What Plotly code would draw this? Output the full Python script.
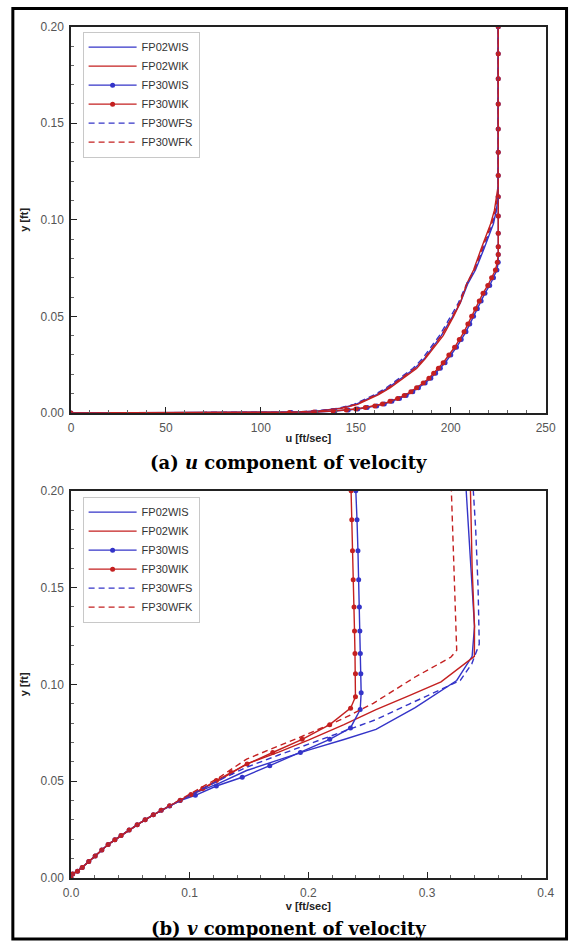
import plotly.graph_objects as go

# ---------------- (a) u-velocity profiles: u [ft/sec] vs y [ft] ----------------
U_Y_FP02WIS = [0, 0.0003, 0.001, 0.0025, 0.0044, 0.0075, 0.0095, 0.013, 0.018, 0.023, 0.028,
               0.035, 0.040, 0.050, 0.057, 0.067, 0.074, 0.085, 0.091, 0.098, 0.105, 0.112, 0.2]
U_FP02WIS = [0, 115, 130, 142, 150, 157, 161, 167, 174, 181, 186,
             191, 195, 201, 205, 209, 213, 217.5, 220, 222.5, 224, 225, 225]

U_Y_FP02WIK = [0, 0.0003, 0.001, 0.0025, 0.0044, 0.0075, 0.0095, 0.013, 0.018, 0.023, 0.028,
               0.035, 0.040, 0.050, 0.057, 0.067, 0.074, 0.085, 0.091, 0.098, 0.105, 0.118, 0.2]
U_FP02WIK = [0, 116, 131, 143, 151, 158, 162, 168, 175, 182, 186.5,
             192, 196, 201.5, 205, 208.5, 212, 216, 218.5, 221, 223, 225, 225]

U_Y_FP30WFS = [0, 0.0003, 0.001, 0.0025, 0.0044, 0.0075, 0.0095, 0.013, 0.018, 0.023, 0.028,
               0.035, 0.040, 0.050, 0.057, 0.067, 0.074, 0.085, 0.091, 0.098, 0.105, 0.112, 0.2]
U_FP30WFS = [0, 114, 129, 141, 149, 156, 160, 166, 173, 180, 185,
             190, 194, 200, 204, 208.5, 212.5, 217, 219.5, 222, 224, 225, 225]

U_Y_FP30WFK = [0, 0.0003, 0.001, 0.0025, 0.0044, 0.0075, 0.0095, 0.013, 0.018, 0.023, 0.028,
               0.035, 0.040, 0.050, 0.057, 0.067, 0.074, 0.085, 0.091, 0.098, 0.105, 0.115, 0.2]
U_FP30WFK = [0, 115, 130, 142, 150, 157, 161, 167, 174, 181, 186,
             191, 195, 201, 204.5, 208.5, 212.5, 216.5, 219, 221.5, 223.5, 225, 225]

U_Y_FP30WI = [0, 0.0002, 0.0005, 0.001, 0.0015, 0.002, 0.0028, 0.0036, 0.0046, 0.006, 0.0075,
              0.009, 0.011, 0.013, 0.0155, 0.018, 0.0205, 0.0231, 0.026, 0.030, 0.034, 0.038,
              0.042, 0.046, 0.050, 0.054, 0.058, 0.062, 0.066, 0.070, 0.074, 0.078, 0.082,
              0.086, 0.093, 0.102, 0.112, 0.123, 0.135, 0.147, 0.160, 0.173, 0.186, 0.2]
U_FP30WIK = [0, 115, 128, 138, 145, 150, 155, 160, 164, 168, 172,
             175.5, 179, 182, 185.5, 188.5, 191, 193.5, 196, 199, 202, 204.5,
             207, 209, 211, 213, 215, 217, 219.5, 221.5, 223.5, 224.5, 225,
             225, 225, 225, 225, 225, 225, 225, 225, 225, 225, 225]
U_FP30WIS = [0, 116, 129, 139, 146, 151, 156, 161, 165, 169, 173,
             176.5, 180, 183, 186.5, 189.5, 192, 194.5, 197, 200, 203, 205.5,
             208, 210, 212, 214, 216, 218, 220.5, 222.5, 224.3, 225, 225,
             225, 225, 225, 225, 225, 225, 225, 225, 225, 225, 225]

# ---------------- (b) v-velocity profiles: v [ft/sec] vs y [ft] ----------------
V_FP02WIS = [0, 0.0014, 0.0095, 0.0204, 0.0313, 0.0422, 0.0558, 0.0694, 0.0831, 0.1011,
             0.125, 0.148, 0.175, 0.2, 0.23, 0.257, 0.29, 0.325, 0.338, 0.340, 0.337, 0.333]
V_Y_FP02WIS = [0, 0.002, 0.0054, 0.0114, 0.0173, 0.0219, 0.0275, 0.0326, 0.0373, 0.0431,
               0.0490, 0.0555, 0.0610, 0.0660, 0.0715, 0.0767, 0.0880, 0.1020, 0.1145, 0.13, 0.16, 0.2]

V_FP02WIK = [0, 0.0014, 0.0095, 0.0204, 0.0313, 0.0422, 0.0558, 0.0694, 0.0831, 0.1011,
             0.125, 0.148, 0.175, 0.2, 0.23, 0.257, 0.285, 0.3118, 0.3399, 0.340, 0.338, 0.3366]
V_Y_FP02WIK = [0, 0.002, 0.0054, 0.0114, 0.0173, 0.0219, 0.0275, 0.0326, 0.0373, 0.0431,
               0.0505, 0.0589, 0.065, 0.0712, 0.0792, 0.0869, 0.0942, 0.1013, 0.1145, 0.13, 0.16, 0.2]

V_FP30WFS = [0, 0.0014, 0.0095, 0.0204, 0.0313, 0.0422, 0.0558, 0.0694, 0.0831, 0.1011,
             0.125, 0.148, 0.175, 0.2, 0.23, 0.257, 0.2846, 0.328, 0.3377, 0.344, 0.343, 0.341, 0.339]
V_Y_FP30WFS = [0, 0.002, 0.0054, 0.0114, 0.0173, 0.0219, 0.0275, 0.0326, 0.0373, 0.0431,
               0.0505, 0.0572, 0.0635, 0.0690, 0.0755, 0.0818, 0.0897, 0.102, 0.1106, 0.1208, 0.15, 0.18, 0.2]

V_FP30WFK = [0, 0.0014, 0.0095, 0.0204, 0.0313, 0.0422, 0.0558, 0.0694, 0.0831, 0.1011,
             0.125, 0.148, 0.175, 0.2, 0.23, 0.2547, 0.29, 0.32, 0.325, 0.323, 0.3205]
V_Y_FP30WFK = [0, 0.002, 0.0054, 0.0114, 0.0173, 0.0219, 0.0275, 0.0326, 0.0373, 0.0438,
               0.052, 0.0614, 0.068, 0.0745, 0.0825, 0.0902, 0.1038, 0.114, 0.1176, 0.16, 0.2]

V_FP30WIS = [0, 0.0014, 0.0055, 0.0095, 0.015, 0.0204, 0.026, 0.0313, 0.037, 0.0422, 0.049,
             0.0558, 0.0625, 0.0694, 0.076, 0.0831, 0.092, 0.1048, 0.1225, 0.1443, 0.1675,
             0.1933, 0.218, 0.2355, 0.2437, 0.2445, 0.2442, 0.2438, 0.2434, 0.243, 0.2424,
             0.2418, 0.2410, 0.2400]
V_Y_FP30WIS = [0, 0.002, 0.0035, 0.0054, 0.0085, 0.0114, 0.0145, 0.0173, 0.0197, 0.0219, 0.0248,
               0.0275, 0.0301, 0.0326, 0.0350, 0.0372, 0.0400, 0.0427, 0.0475, 0.0520, 0.0580,
               0.0648, 0.0716, 0.0775, 0.0870, 0.0957, 0.1055, 0.116, 0.1276, 0.140, 0.154,
               0.169, 0.185, 0.2]

V_FP30WIK = [0, 0.0014, 0.0055, 0.0095, 0.015, 0.0204, 0.026, 0.0313, 0.037, 0.0422, 0.049,
             0.0558, 0.0625, 0.0694, 0.076, 0.0831, 0.092, 0.1011, 0.111, 0.1225, 0.135, 0.1484,
             0.170, 0.1948, 0.218, 0.2356, 0.2397, 0.2397, 0.2393, 0.2389, 0.2385, 0.2378,
             0.2372, 0.2366, 0.236]
V_Y_FP30WIK = [0, 0.002, 0.0035, 0.0054, 0.0085, 0.0114, 0.0145, 0.0173, 0.0197, 0.0219, 0.0248,
               0.0275, 0.0301, 0.0326, 0.0350, 0.0373, 0.0402, 0.0431, 0.0462, 0.0504, 0.0545, 0.0588,
               0.0648, 0.0716, 0.0792, 0.0877, 0.0936, 0.1055, 0.116, 0.1276, 0.140, 0.154,
               0.169, 0.185, 0.2]

BLUE = "#3434c8"
RED = "#c42020"
W, H = 578, 949

fig = go.Figure()


def add_series(x, y, name, color, dash, markers, xa, ya, legend):
    fig.add_trace(go.Scatter(
        x=x, y=y, name=name,
        mode="lines+markers" if markers else "lines",
        line=dict(color=color, width=1.4, dash=dash),
        marker=dict(size=5, color=color),
        xaxis=xa, yaxis=ya, legend=legend,
    ))


DASH = "6px,4px"
STYLES = [("FP02WIS", BLUE, "solid", False), ("FP02WIK", RED, "solid", False),
          ("FP30WIS", BLUE, "solid", True), ("FP30WIK", RED, "solid", True),
          ("FP30WFS", BLUE, DASH, False), ("FP30WFK", RED, DASH, False)]
for xa, ya, lg, data in [
    ("x", "y", "legend", [
        (U_FP02WIS, U_Y_FP02WIS), (U_FP02WIK, U_Y_FP02WIK),
        (U_FP30WIS, U_Y_FP30WI), (U_FP30WIK, U_Y_FP30WI),
        (U_FP30WFS, U_Y_FP30WFS), (U_FP30WFK, U_Y_FP30WFK)]),
    ("x2", "y2", "legend2", [
        (V_FP02WIS, V_Y_FP02WIS), (V_FP02WIK, V_Y_FP02WIK),
        (V_FP30WIS, V_Y_FP30WIS), (V_FP30WIK, V_Y_FP30WIK),
        (V_FP30WFS, V_Y_FP30WFS), (V_FP30WFK, V_Y_FP30WFK)]),
]:
    for (name, color, dash, mk), (x, y) in zip(STYLES, data):
        add_series(x, y, name, color, dash, mk, xa, ya, lg)

SANS = "Liberation Sans, Arial, sans-serif"
TICKFONT = dict(family=SANS, size=12, color="#555555")
TITLEFONT = dict(family=SANS, size=11, color="#222222")

axis_common = dict(
    showline=True, linecolor="#222222", linewidth=1.5, mirror=True,
    ticks="inside", ticklen=6, tickwidth=1.2, tickcolor="#222222",
    showgrid=False, zeroline=False, tickfont=TICKFONT, ticklabelstandoff=3,
)
minor = dict(ticks="inside", ticklen=3, tickcolor="#666666", tickwidth=1, showgrid=False)

XDOM = [65 / W, 555 / W]
fig.update_layout(
    width=W, height=H,
    margin=dict(l=0, r=0, t=0, b=0),
    paper_bgcolor="white", plot_bgcolor="white",
    xaxis=dict(domain=XDOM, anchor="y", range=[0, 250], dtick=50,
               minor=dict(dtick=10, **minor),
               title=dict(text="<b>u [ft/sec]</b>", font=TITLEFONT, standoff=0), **axis_common),
    yaxis=dict(domain=[1 - 412 / H, 1 - 20 / H], anchor="x", range=[0, 0.2], dtick=0.05,
               tickformat=".2f", minor=dict(dtick=0.01, **minor),
               title=dict(text="<b>y [ft]</b>", font=TITLEFONT, standoff=10), **axis_common),
    xaxis2=dict(domain=XDOM, anchor="y2", range=[0, 0.4], dtick=0.1, tickformat=".1f",
                minor=dict(dtick=0.02, **minor),
                title=dict(text="<b>v [ft/sec]</b>", font=TITLEFONT, standoff=0), **axis_common),
    yaxis2=dict(domain=[1 - 884 / H, 1 - 491 / H], anchor="x2", range=[0, 0.2], dtick=0.05,
                tickformat=".2f", minor=dict(dtick=0.01, **minor),
                title=dict(text="<b>y [ft]</b>", font=TITLEFONT, standoff=10), **axis_common),
)

legend_common = dict(
    xanchor="left", yanchor="top", bgcolor="white",
    bordercolor="#c8c8c8", borderwidth=1,
    font=dict(family=SANS, size=11, color="#333333"),
    itemwidth=48, tracegroupgap=0,
)
fig.update_layout(
    legend=dict(x=77 / W, y=1 - 25 / H, **legend_common),
    legend2=dict(x=77 / W, y=1 - 497 / H, **legend_common),
)

CAPFONT = dict(family="DejaVu Serif, serif", size=18, color="black")
fig.add_annotation(text="<b>(a) <i>u</i> component of velocity</b>", xref="paper", yref="paper",
                   x=0.5, y=1 - 462 / H, xanchor="center", yanchor="middle",
                   showarrow=False, font=CAPFONT)
fig.add_annotation(text="<b>(b) <i>v</i> component of velocity</b>", xref="paper", yref="paper",
                   x=0.5, y=1 - 935 / H, xanchor="center", yanchor="middle",
                   showarrow=False, font=CAPFONT)

# outer frame around both panels
fig.add_shape(type="rect", xref="paper", yref="paper",
              x0=5 / W, x1=576.5 / W, y0=1 - 946 / H, y1=1 - 1.5 / H,
              line=dict(color="black", width=3))

fig.write_html("out.html")
